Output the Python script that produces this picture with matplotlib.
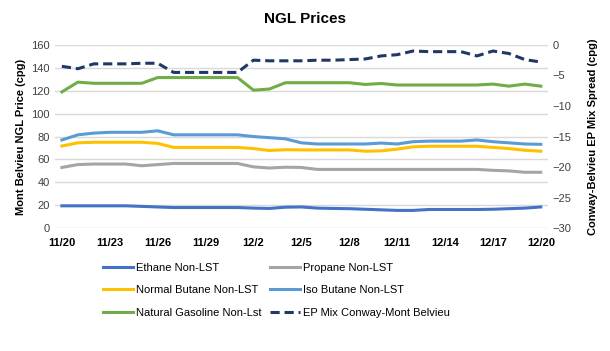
import numpy as np
import pandas as pd
import matplotlib
matplotlib.use('Agg')
import matplotlib.pyplot as plt
import matplotlib.dates as mdates

plt.rcParams['font.family'] = ['Liberation Sans', 'DejaVu Sans']

# daily observations 11/20 - 12/20
dates = pd.date_range('2019-11-20', '2019-12-20', freq='D')

ethane = [19.5, 19.5, 19.5, 19.5, 19.5, 19.0, 18.5, 18.0, 18.0, 18.0, 18.0, 18.0,
          17.5, 17.2, 18.3, 18.5, 17.5, 17.2, 17.0, 16.5, 16.0, 15.5, 15.5, 16.3,
          16.3, 16.3, 16.3, 16.5, 17.0, 17.5, 18.5]
propane = [53.0, 55.5, 56.0, 56.0, 56.0, 54.5, 55.5, 56.5, 56.5, 56.5, 56.5, 56.5,
           53.5, 52.5, 53.2, 53.0, 51.3, 51.3, 51.3, 51.3, 51.3, 51.3, 51.3, 51.3,
           51.3, 51.3, 51.3, 50.5, 50.0, 48.8, 48.8]
normal_butane = [71.7, 74.5, 75.0, 75.0, 75.0, 75.0, 74.0, 70.5, 70.5, 70.5, 70.5, 70.5,
                 69.5, 67.8, 68.5, 68.3, 68.3, 68.3, 68.3, 67.2, 67.5, 69.0, 71.0, 71.5,
                 71.5, 71.5, 71.5, 70.5, 69.5, 68.0, 67.2]
iso_butane = [77.0, 81.5, 83.0, 83.7, 83.7, 83.7, 85.0, 81.5, 81.5, 81.5, 81.5, 81.5,
              80.0, 79.0, 78.0, 74.5, 73.5, 73.5, 73.5, 73.5, 74.3, 73.5, 75.5, 76.0,
              76.0, 76.0, 77.0, 75.5, 74.5, 73.5, 73.2]
nat_gasoline = [119.0, 127.5, 126.5, 126.5, 126.5, 126.5, 131.5, 131.5, 131.5, 131.5, 131.5, 131.5,
                120.5, 121.5, 127.0, 127.0, 127.0, 127.0, 127.0, 125.5, 126.3, 125.0, 125.0, 125.0,
                125.0, 125.0, 125.0, 125.8, 124.0, 125.8, 124.0]
ep_mix = [-3.5, -3.9, -3.1, -3.1, -3.1, -3.0, -3.0, -4.5, -4.5, -4.5, -4.5, -4.5,
          -2.5, -2.6, -2.6, -2.6, -2.5, -2.5, -2.4, -2.3, -1.8, -1.6, -1.0, -1.1,
          -1.1, -1.1, -1.8, -1.0, -1.4, -2.4, -2.8]

fig = plt.figure(figsize=(6.1, 3.51), dpi=100)
ax = fig.add_axes([0.090, 0.350, 0.808, 0.522])
ax2 = ax.twinx()

l1, = ax.plot(dates, ethane, color='#4472C4', lw=2.2, label='Ethane Non-LST')
l2, = ax.plot(dates, propane, color='#A5A5A5', lw=2.2, label='Propane Non-LST')
l3, = ax.plot(dates, normal_butane, color='#FFC000', lw=2.2, label='Normal Butane Non-LST')
l4, = ax.plot(dates, iso_butane, color='#5B9BD5', lw=2.2, label='Iso Butane Non-LST')
l5, = ax.plot(dates, nat_gasoline, color='#70AD47', lw=2.2, label='Natural Gasoline Non-Lst')
l6, = ax2.plot(dates, ep_mix, color='#1F3864', lw=2.2, ls=(0, (3, 1.6)),
               label='EP Mix Conway-Mont Belvieu')

pad = pd.Timedelta(hours=10.5)
ax.set_xlim(dates[0] - pad, dates[-1] + pad)
ax.set_ylim(0, 160)
ax.set_yticks(range(0, 161, 20))
ax2.set_ylim(-30, 0)
ax2.set_yticks(range(-30, 1, 5))

ax.set_xticks(dates[::3])
ax.xaxis.set_major_formatter(mdates.DateFormatter('%-m/%-d'))

ax.grid(axis='y', color='#D9D9D9', lw=1)
ax.set_axisbelow(True)
for a in (ax, ax2):
    for s in a.spines.values():
        s.set_visible(False)
    a.tick_params(length=0, labelsize=8, colors='#404040')
ax.tick_params(axis='x', pad=7)
for t in ax.get_xticklabels():
    t.set_fontweight('bold')
    t.set_color('#000000')

ax.set_ylabel('Mont Belvieu NGL Price (cpg)', fontsize=8, fontweight='bold', labelpad=4)
ax2.set_ylabel('Conway-Belvieu EP Mix Spread (cpg)', fontsize=8, fontweight='bold', labelpad=12)
fig.suptitle('NGL Prices', x=0.5, y=0.965, fontsize=11, fontweight='bold')

handles = [l1, l3, l5, l2, l4, l6]
fig.legend(handles, [h.get_label() for h in handles], ncol=2, loc='upper left',
           bbox_to_anchor=(103 / 610, 0.252), frameon=False, fontsize=8,
           handlelength=2.7, columnspacing=0.7, labelspacing=1.15, handletextpad=0.3,
           borderpad=0, borderaxespad=0)

fig.savefig('out.png', dpi=100)
